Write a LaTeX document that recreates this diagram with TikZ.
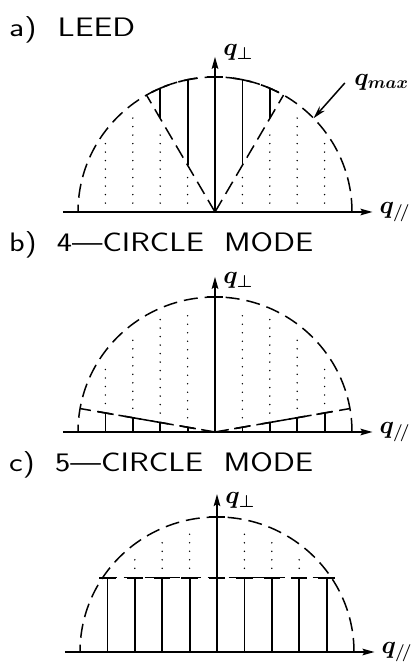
\documentclass[tikz,border=0pt]{standalone}
\usepackage{fontspec}
\usepackage{bm}
\usepackage{graphicx}
\usetikzlibrary{arrows.meta}
\newfontfamily\titlefont{lmsans17-regular.otf}
\tikzset{
 axisl/.style={line width=2pt, -{Stealth[length=12pt,width=6.5pt,inset=2pt]}},
 bound/.style={line width=1.5pt, dash pattern=on 14pt off 7pt},
 solidl/.style={line width=1.8pt},
 dotl/.style={line width=1.6pt, dash pattern=on 0pt off 8.5pt, line cap=round},
 ticks/.style={line width=1.6pt},
 qlab/.style={inner sep=0pt, font=\fontsize{25}{29}\selectfont},
 ttl/.style={inner sep=0pt, anchor=base west, font=\fontsize{27}{31}\selectfont\titlefont},
 pan/.style={x=27.4pt, y=27pt}
}
\begin{document}
\begin{tikzpicture}[x=1pt,y=1pt]
\useasboundingbox (0,0) rectangle (412,666);
% titles
\node[ttl] (ta) at (9,629) {\resizebox{126pt}{20pt}{a)\ \ LEED}};
\node[ttl] (tb) at (9,414) {\resizebox{304pt}{20pt}{b)\ \ 4—CIRCLE\ \ MODE}};
\node[ttl] (tc) at (9,194) {\resizebox{304pt}{20pt}{c)\ \ 5—CIRCLE\ \ MODE}};

% ---------- panel a ----------
\begin{scope}[shift={(215pt,454pt)}, pan]
 \coordinate (aO) at (0,0);
 \coordinate (aL) at (-5.55,0);
 \coordinate (aR) at (5.75,0);
 \coordinate (aT) at (0,5.75);
 \coordinate (aE) at (5,0);
 \coordinate (aV1) at (60:5);
 \coordinate (aV2) at (120:5);
 \draw[bound] (aE) arc[start angle=0, end angle=180, radius=5];
 \draw[bound] (aO) -- (aV1);
 \draw[bound] (aO) -- (aV2);
 \foreach \k in {-2,-1,1,2}{
  \pgfmathsetmacro\lo{abs(\k)*tan(60)}
  \pgfmathsetmacro\hi{sqrt(25-\k*\k)}
  \pgfmathsetmacro\ang{acos(\k/5)}
  \coordinate (alo\k) at (\k,\lo);
  \coordinate (ahi\k) at (\k,\hi);
  \draw[solidl] (alo\k) -- (ahi\k);
  \coordinate (atk\k) at ({\ang-4}:5);
  \draw[ticks] (atk\k) arc[start angle=\ang-4, end angle=\ang+4, radius=5];
  \coordinate (adb\k) at (\k,0.33);
  \coordinate (adt\k) at (\k,{\lo-0.35});
  \draw[dotl] (adb\k) -- (adt\k);
 }
 \foreach \k in {-4,-3,3,4}{
  \pgfmathsetmacro\hi{sqrt(25-\k*\k)}
  \coordinate (adb\k) at (\k,0.33);
  \coordinate (adt\k) at (\k,{\hi-0.4});
  \draw[dotl] (adb\k) -- (adt\k);
 }
 \coordinate (apl) at (-0.28,5);
 \coordinate (apr) at (0.28,5);
 \draw[ticks] (apl) -- (apr);
 \draw[axisl] (aL) -- (aR);
 \draw[axisl] (aO) -- (aT);
 \node[qlab, anchor=base west] (aqp) at (0.3,5.78) {$\bm{q}_{\bm{\perp}}$};
 \node[qlab, anchor=base west] (aqh) at (6.0,-0.05) {$\bm{q}_{\bm{/\!/}}$};
 \node[qlab, anchor=base west] (aqm) at (5.08,4.7) {$\bm{q}_{\bm{max}}$};
 \coordinate (aQt) at (4.74,4.78);
 \coordinate (aQh) at (44:5);
 \draw[line width=1.5pt, -{Stealth[length=13pt,width=7pt]}] (aQt) -- (aQh);
\end{scope}

% ---------- panel b ----------
\begin{scope}[shift={(215pt,234pt)}, pan]
 \coordinate (bO) at (0,0);
 \coordinate (bL) at (-5.55,0);
 \coordinate (bR) at (5.75,0);
 \coordinate (bT) at (0,5.75);
 \coordinate (bE) at (5,0);
 \coordinate (bV1) at (10:5);
 \coordinate (bV2) at (170:5);
 \draw[bound] (bE) arc[start angle=0, end angle=180, radius=5];
 \draw[bound] (bO) -- (bV1);
 \draw[bound] (bO) -- (bV2);
 \foreach \k in {-4,-3,-2,-1,1,2,3,4}{
  \pgfmathsetmacro\lo{abs(\k)*tan(10)}
  \pgfmathsetmacro\hi{sqrt(25-\k*\k)}
  \pgfmathsetmacro\sg{\k/abs(\k)}
  \coordinate (bb\k) at (\k,0);
  \coordinate (bt\k) at (\k,\lo);
  \draw[solidl] (bb\k) -- (bt\k);
  \coordinate (btl\k) at ({\k-0.3*\sg},{\lo-0.3*tan(10)});
  \coordinate (btr\k) at ({\k+0.3*\sg},{\lo+0.3*tan(10)});
  \draw[ticks] (btl\k) -- (btr\k);
  \coordinate (bdb\k) at (\k,{\lo+0.35});
  \coordinate (bdt\k) at (\k,{\hi-0.4});
  \draw[dotl] (bdb\k) -- (bdt\k);
 }
 \coordinate (bpl) at (-0.28,5);
 \coordinate (bpr) at (0.28,5);
 \draw[ticks] (bpl) -- (bpr);
 \draw[axisl] (bL) -- (bR);
 \draw[axisl] (bO) -- (bT);
 \node[qlab, anchor=base west] (bqp) at (0.3,5.5) {$\bm{q}_{\bm{\perp}}$};
 \node[qlab, anchor=base west] (bqh) at (6.0,-0.05) {$\bm{q}_{\bm{/\!/}}$};
\end{scope}

% ---------- panel c ----------
\begin{scope}[shift={(217pt,14pt)}, pan]
 \coordinate (cO) at (0,0);
 \coordinate (cL) at (-5.55,0);
 \coordinate (cR) at (5.75,0);
 \coordinate (cT) at (0,5.85);
 \coordinate (cE) at (5,0);
 \coordinate (cH1) at (-4.176,2.75);
 \coordinate (cH2) at (4.176,2.75);
 \draw[bound] (cE) arc[start angle=0, end angle=180, radius=5];
 \draw[bound] (cH1) -- (cH2);
 \foreach \k in {-4,-3,-2,-1,1,2,3,4}{
  \coordinate (cb\k) at (\k,0);
  \coordinate (ct\k) at (\k,2.75);
  \draw[solidl] (cb\k) -- (ct\k);
  \coordinate (ctl\k) at ({\k-0.3},2.75);
  \coordinate (ctr\k) at ({\k+0.3},2.75);
  \draw[ticks] (ctl\k) -- (ctr\k);
 }
 \foreach \k in {-3,-2,-1,1,2,3}{
  \pgfmathsetmacro\hi{sqrt(25-\k*\k)}
  \coordinate (cdb\k) at (\k,3.1);
  \coordinate (cdt\k) at (\k,{\hi-0.4});
  \draw[dotl] (cdb\k) -- (cdt\k);
 }
 \coordinate (cml) at (-0.28,2.75);
 \coordinate (cmr) at (0.28,2.75);
 \draw[ticks] (cml) -- (cmr);
 \coordinate (cpl) at (-0.28,5);
 \coordinate (cpr) at (0.28,5);
 \draw[ticks] (cpl) -- (cpr);
 \draw[axisl] (cL) -- (cR);
 \draw[axisl] (cO) -- (cT);
 \node[qlab, anchor=base west] (cqp) at (0.3,5.5) {$\bm{q}_{\bm{\perp}}$};
 \node[qlab, anchor=base west] (cqh) at (6.0,-0.05) {$\bm{q}_{\bm{/\!/}}$};
\end{scope}
\end{tikzpicture}
\end{document}
